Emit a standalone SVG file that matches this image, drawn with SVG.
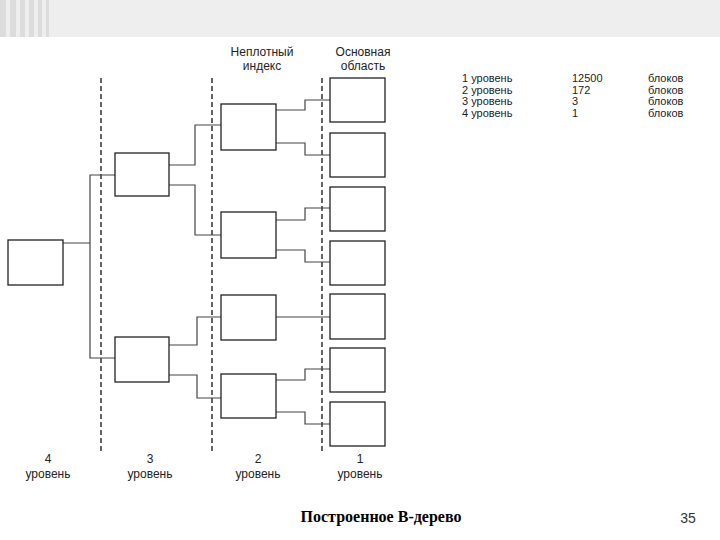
<svg xmlns="http://www.w3.org/2000/svg" width="720" height="540" viewBox="0 0 720 540">
<style>
.b{fill:#fff;stroke:#222;stroke-width:1.3}
.c{fill:none;stroke:#444;stroke-width:1.2}
.d{stroke:#111;stroke-width:1.3;stroke-dasharray:5,3}
.t{font-family:"Liberation Sans",Arial,sans-serif;font-size:12px;fill:#222}
.s{font-size:11px}
.m{text-anchor:middle}
</style>
<rect width="720" height="540" fill="#fff"/>
<rect width="720" height="37" fill="#eeeeee"/>
<g fill="#dcdcdc"><rect x="0" y="0" width="6" height="37"/><rect x="10" y="0" width="6" height="37"/><rect x="20" y="0" width="5" height="37"/><rect x="29" y="0" width="5" height="37"/><rect x="38" y="0" width="4" height="37"/><rect x="46" y="0" width="3" height="37"/></g>
<g id="dividers"><line class="d" x1="101" y1="78" x2="101" y2="452"/><line class="d" x1="212" y1="78" x2="212" y2="452"/><line class="d" x1="322" y1="78" x2="322" y2="452"/></g>
<g id="connectors">
<path class="c" d="M63,243H90V175H115M90,243V358H115"/>
<path class="c" d="M169,165H195V125H221M169,185H195V235H221M169,345H197V317H221M169,375H197V398H221"/>
<path class="c" d="M276,110H305V100H330M276,143H305V155H330M276,220H305V208H330M276,250H305V262H330M276,317H330M276,380H305V369H330M276,412H305V424H330"/>
</g>
<g id="n4"><rect class="b" x="8" y="240" width="55" height="45"/></g>
<g id="n3a"><rect class="b" x="115" y="153" width="54" height="43"/></g>
<g id="n3b"><rect class="b" x="115" y="337" width="54" height="45"/></g>
<g id="n2a"><rect class="b" x="221" y="104" width="55" height="46"/></g>
<g id="n2b"><rect class="b" x="221" y="212" width="55" height="46"/></g>
<g id="n2c"><rect class="b" x="221" y="295" width="55" height="45"/></g>
<g id="n2d"><rect class="b" x="221" y="374" width="55" height="44"/></g>
<g id="n1a"><rect class="b" x="330" y="78" width="55" height="44"/></g>
<g id="n1b"><rect class="b" x="330" y="133" width="55" height="44"/></g>
<g id="n1c"><rect class="b" x="330" y="187" width="55" height="44"/></g>
<g id="n1d"><rect class="b" x="330" y="241" width="55" height="44"/></g>
<g id="n1e"><rect class="b" x="330" y="294" width="55" height="45"/></g>
<g id="n1f"><rect class="b" x="330" y="348" width="55" height="44"/></g>
<g id="n1g"><rect class="b" x="330" y="402" width="55" height="44"/></g>
<g id="labels">
<text class="t m" x="262" y="56">Неплотный</text><text class="t m" x="262" y="70">индекс</text>
<text class="t m" x="363" y="56">Основная</text><text class="t m" x="363" y="70">область</text>
<text class="t s" x="462" y="82">1 уровень</text><text class="t s" x="572" y="82">12500</text><text class="t s" x="648" y="82">блоков</text>
<text class="t s" x="462" y="93.5">2 уровень</text><text class="t s" x="572" y="93.5">172</text><text class="t s" x="648" y="93.5">блоков</text>
<text class="t s" x="462" y="105">3 уровень</text><text class="t s" x="572" y="105">3</text><text class="t s" x="648" y="105">блоков</text>
<text class="t s" x="462" y="116.5">4 уровень</text><text class="t s" x="572" y="116.5">1</text><text class="t s" x="648" y="116.5">блоков</text>
<text class="t m" x="48" y="463">4</text><text class="t m" x="48" y="478">уровень</text>
<text class="t m" x="150" y="463">3</text><text class="t m" x="150" y="478">уровень</text>
<text class="t m" x="258" y="463">2</text><text class="t m" x="258" y="478">уровень</text>
<text class="t m" x="360" y="463">1</text><text class="t m" x="360" y="478">уровень</text>
</g>
<text x="381" y="522" text-anchor="middle" font-family="Liberation Serif,serif" font-size="16" font-weight="bold" fill="#000">Построенное B-дерево</text>
<text x="688" y="523" text-anchor="middle" font-family="Liberation Sans,sans-serif" font-size="14" fill="#333">35</text>
</svg>
